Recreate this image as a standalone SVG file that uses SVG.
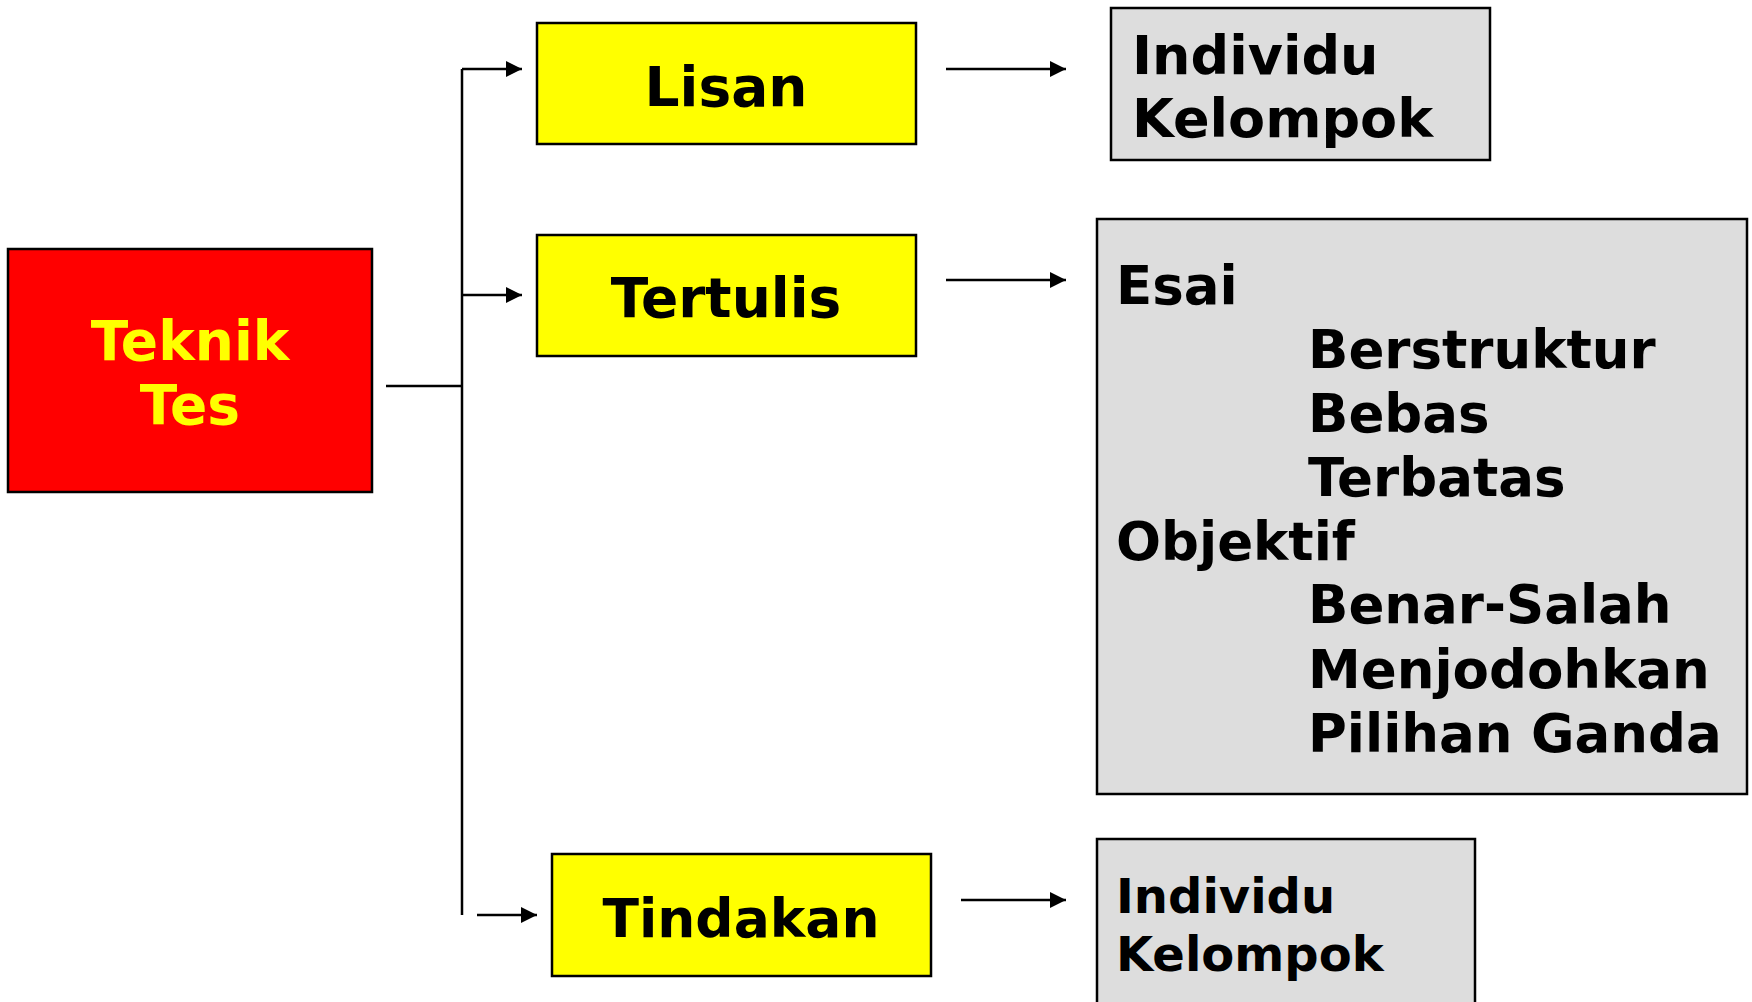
<svg xmlns="http://www.w3.org/2000/svg" width="1752" height="1002" viewBox="0 0 1752 1002">
<style>
.box{stroke:#000;stroke-width:2.5}
.red{fill:#FF0000}
.yel{fill:#FFFF00}
.gry{fill:#DDDDDD}
text{font-family:"DejaVu Sans","Verdana",sans-serif;font-weight:bold}
.t55{font-size:55px;text-anchor:middle}
.t54{font-size:53.5px;text-anchor:middle}
.ty{fill:#FFFF00}
.tb{fill:#000}
.g54{font-size:54px;fill:#000}
.g53{font-size:53px;fill:#000}
.g48{font-size:48px;fill:#000}
.ln{stroke:#000;stroke-width:2.5;fill:none}
</style>
<defs>
<marker id="ah" markerUnits="userSpaceOnUse" markerWidth="17" markerHeight="16" refX="16" refY="8" orient="auto">
<path d="M0,0 L16,8 L0,16 z" fill="#000"/>
</marker>
</defs>
<rect width="1752" height="1002" fill="#fff"/>
<g id="connectors">
<path class="ln" d="M386,386 H462"/>
<path class="ln" d="M462,69 V915"/>
<path class="ln" d="M462,69 H522" marker-end="url(#ah)"/>
<path class="ln" d="M462,295 H522" marker-end="url(#ah)"/>
<path class="ln" d="M477,915 H537" marker-end="url(#ah)"/>
<path class="ln" d="M946,69 H1066" marker-end="url(#ah)"/>
<path class="ln" d="M946,280 H1066" marker-end="url(#ah)"/>
<path class="ln" d="M961,900 H1066" marker-end="url(#ah)"/>
</g>
<g id="teknik-tes">
<rect class="box red" x="8" y="249" width="364" height="243"/>
<text class="t55 ty" x="190" y="360">Teknik</text>
<text class="t55 ty" x="190" y="424">Tes</text>
</g>
<g id="lisan">
<rect class="box yel" x="537" y="23" width="379" height="121"/>
<text class="t55 tb" x="726" y="106">Lisan</text>
</g>
<g id="tertulis">
<rect class="box yel" x="537" y="235" width="379" height="121"/>
<text class="t55 tb" x="726" y="317">Tertulis</text>
</g>
<g id="tindakan">
<rect class="box yel" x="552" y="854" width="379" height="122"/>
<text class="t54 tb" x="741" y="937">Tindakan</text>
</g>
<g id="lisan-detail">
<rect class="box gry" x="1111" y="8" width="379" height="152"/>
<text class="g54" x="1132" y="74">Individu</text>
<text class="g54" x="1132" y="137">Kelompok</text>
</g>
<g id="tertulis-detail">
<rect class="box gry" x="1097" y="219" width="650" height="575"/>
<text class="g53" x="1116" y="304">Esai</text>
<text class="g53" x="1308" y="368">Berstruktur</text>
<text class="g53" x="1308" y="432">Bebas</text>
<text class="g53" x="1308" y="496">Terbatas</text>
<text class="g53" x="1116" y="560">Objektif</text>
<text class="g53" x="1308" y="623">Benar-Salah</text>
<text class="g53" x="1308" y="688">Menjodohkan</text>
<text class="g53" x="1308" y="752">Pilihan Ganda</text>
</g>
<g id="tindakan-detail">
<rect class="box gry" x="1097" y="839" width="378" height="180"/>
<text class="g48" x="1116" y="913">Individu</text>
<text class="g48" x="1116" y="971">Kelompok</text>
</g>
</svg>
